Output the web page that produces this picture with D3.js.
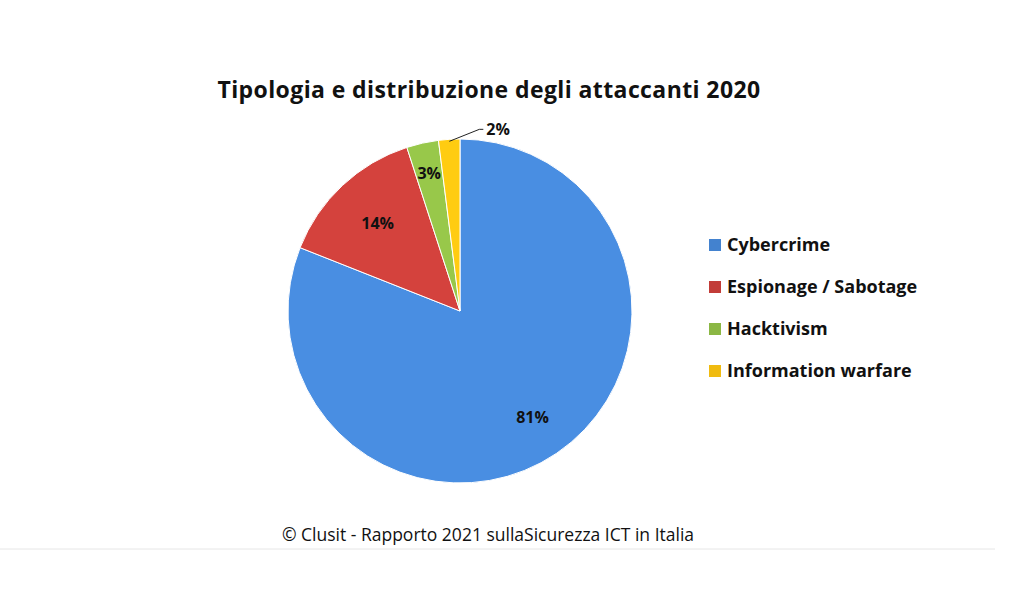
<!DOCTYPE html>
<html>
<head>
<meta charset="utf-8">
<script src="https://cdn.jsdelivr.net/npm/d3@7"></script>
<style>
  body { margin: 0; background: #fff; }
  svg text { font-family: "Open Sans", "DejaVu Sans", sans-serif; fill: #111; }
</style>
</head>
<body>
<div id="chart"></div>
<script>
// Dati
const categories = ["Cybercrime", "Espionage / Sabotage", "Hacktivism", "Information warfare"];
const values = [81, 14, 3, 2];
const colors = ["#4382cf", "#c23c38", "#8bb744", "#f0bb10"];

const width = 1024, height = 603;
const cx = 460, cy = 311, r = 172;

const svg = d3.select("#chart").append("svg")
    .attr("width", width)
    .attr("height", height);

// Gradienti per effetto "Excel"
const defs = svg.append("defs");
colors.forEach((c, i) => {
    const g = defs.append("radialGradient")
        .attr("id", "grad" + i)
        .attr("gradientUnits", "userSpaceOnUse")
        .attr("cx", cx).attr("cy", cy).attr("r", r);
    g.append("stop").attr("offset", "0%").attr("stop-color", d3.color(c).darker(0.2));
    g.append("stop").attr("offset", "85%").attr("stop-color", c);
    g.append("stop").attr("offset", "100%").attr("stop-color", d3.color(c).brighter(0.25));
});

// Titolo
svg.append("text")
    .attr("x", 489).attr("y", 98)
    .attr("text-anchor", "middle")
    .style("font-size", "23px")
    .style("font-weight", "700")
    .style("letter-spacing", "0.4px")
    .text("Tipologia  e distribuzione degli attaccanti 2020");

const pie = d3.pie().sort(null).value(d => d)(values);
const arc = d3.arc().innerRadius(0).outerRadius(r);

const g = svg.append("g").attr("transform", `translate(${cx},${cy})`);

g.selectAll("path")
    .data(pie)
    .enter().append("path")
    .attr("d", arc)
    .attr("fill", (d, i) => `url(#grad${i})`)
    .attr("stroke", "#fff")
    .attr("stroke-width", 1);

// Etichette percentuali
const labelRadius = [0.75, 0.7, 0.82];
pie.forEach((d, i) => {
    if (i < 3) {
        const p = d3.arc().innerRadius(r * labelRadius[i]).outerRadius(r * labelRadius[i]).centroid(d);
        g.append("text")
            .attr("x", p[0])
            .attr("y", p[1])
            .attr("dy", "0.35em")
            .attr("text-anchor", "middle")
            .style("font-size", "16px")
            .style("font-weight", "700")
            .text(values[i] + "%");
    } else {
        // etichetta esterna con linea guida
        const mid = (d.startAngle + d.endAngle) / 2;
        const p0 = [Math.sin(mid) * (r - 2), -Math.cos(mid) * (r - 2)];
        const p1 = [p0[0] + 30, p0[1] - 12];
        g.append("polyline")
            .attr("points", [p0, p1, [p1[0] + 4, p1[1]]].map(p => p.join(",")).join(" "))
            .attr("fill", "none")
            .attr("stroke", "#222")
            .attr("stroke-width", 1);
        g.append("text")
            .attr("x", p1[0] + 7)
            .attr("y", p1[1])
            .attr("dy", "0.35em")
            .style("font-size", "16px")
            .style("font-weight", "700")
            .text(values[i] + "%");
    }
});

// Legenda
const legend = svg.append("g").attr("transform", "translate(709,245)");
categories.forEach((c, i) => {
    const row = legend.append("g").attr("transform", `translate(0,${i * 42})`);
    row.append("rect")
        .attr("x", 0).attr("y", -6)
        .attr("width", 12).attr("height", 12)
        .attr("fill", colors[i]);
    row.append("text")
        .attr("x", 18).attr("dy", "0.35em")
        .style("font-size", "18px")
        .style("font-weight", "700")
        .text(c);
});

// Fonte
svg.append("text")
    .attr("x", 488).attr("y", 541)
    .attr("text-anchor", "middle")
    .style("font-size", "17.5px")
    .text("© Clusit - Rapporto 2021 sullaSicurezza ICT in Italia");

svg.append("line")
    .attr("x1", 0).attr("x2", 995)
    .attr("y1", 549).attr("y2", 549)
    .attr("stroke", "#e6e6e6");
</script>
</body>
</html>
